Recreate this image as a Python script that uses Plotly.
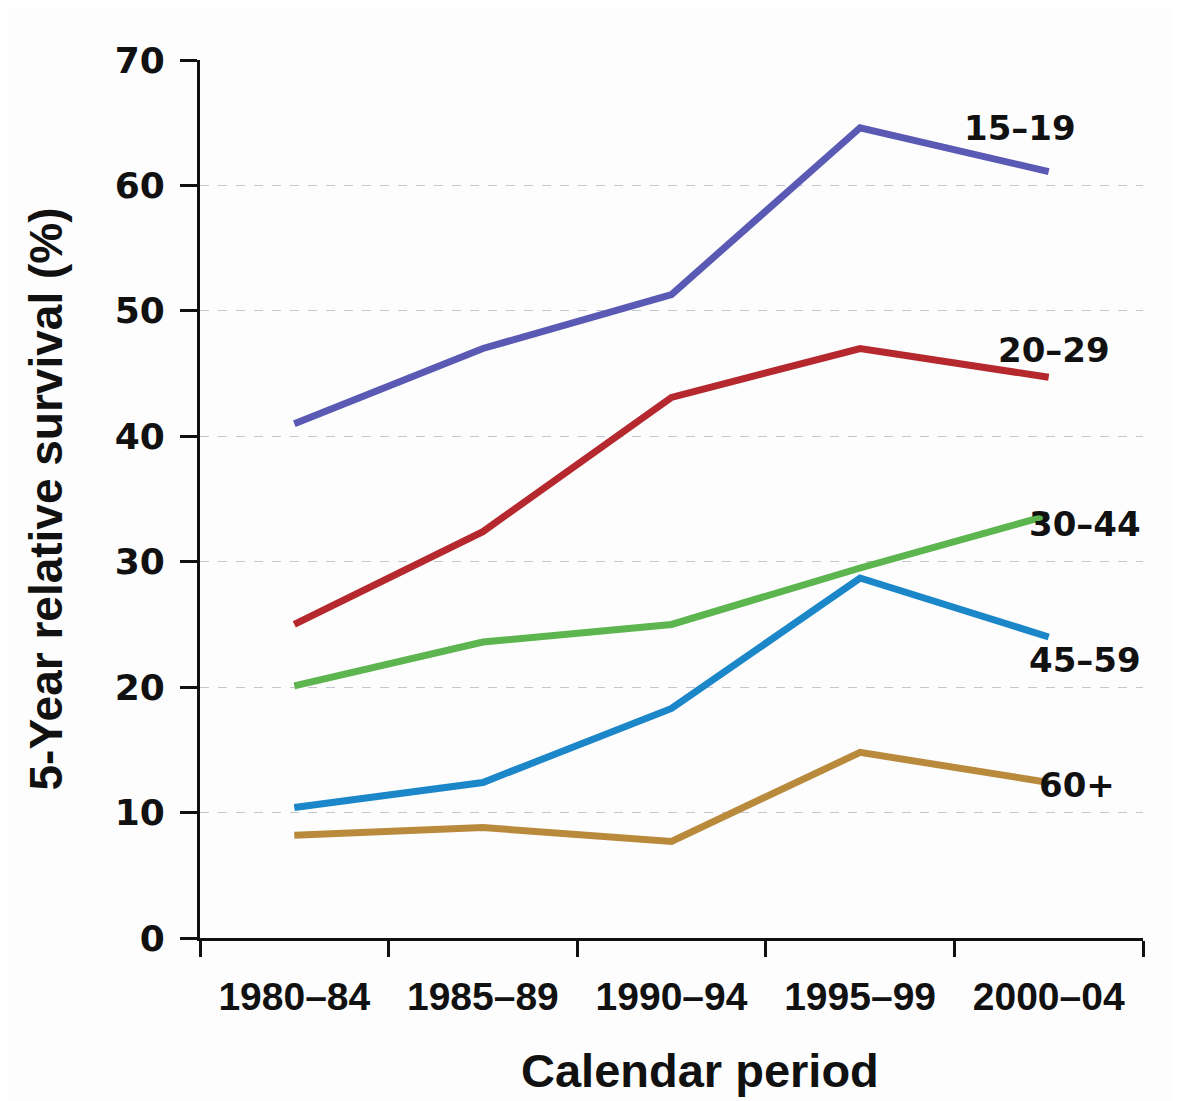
import plotly.graph_objects as go

# calendar periods and 5-year relative survival (%) by age group
periods = ['1980–84', '1985–89', '1990–94', '1995–99', '2000–04']
age_15_19 = [41.0, 47.0, 51.3, 64.6, 61.1]
age_20_29 = [25.0, 32.4, 43.1, 47.0, 44.7]
age_30_44 = [20.1, 23.6, 25.0, 29.5, 33.7]
age_45_59 = [10.4, 12.4, 18.3, 28.7, 24.0]
age_60_up = [8.2, 8.8, 7.7, 14.8, 12.4]

groups = ['15–19', '20–29', '30–44', '45–59', '60+']
series = [age_15_19, age_20_29, age_30_44, age_45_59, age_60_up]
colors = ['#5a5ab4', '#b5282e', '#5cb54f', '#1b87c9', '#b98a3c']

# where the group labels sit (category index, %)
label_x = [3.85, 4.03, 4.19, 4.19, 4.15]
label_y = [64.6, 46.9, 33.0, 22.2, 12.2]

W, H = 1172, 1093
L, R, T, B = 192, 37, 52, 163

fig = go.Figure()
for name, vals, col in zip(groups, series, colors):
    fig.add_trace(go.Scatter(x=periods, y=vals, mode='lines', name=name,
                             line=dict(color=col, width=7)))

for name, lx, ly in zip(groups, label_x, label_y):
    fig.add_annotation(x=lx, y=ly, xref='x', yref='y', text=name, showarrow=False,
                       font=dict(family='DejaVu Sans', size=34, color='#111111', weight='bold'))

# x title placed by pixel, converted to paper coords
fig.add_annotation(x=(692 - L) / (W - L - R), y=-(1062 - (H - B)) / (H - T - B),
                   xref='paper', yref='paper', xanchor='center', yanchor='middle',
                   text='Calendar period', showarrow=False,
                   font=dict(family='Liberation Sans', size=47, color='#111111', weight='bold'))

fig.update_layout(
    width=W, height=H,
    margin=dict(l=L, r=R, t=T, b=B),
    paper_bgcolor='#fdfdfd', plot_bgcolor='#fdfdfd',
    showlegend=False,
)

fig.update_xaxes(
    type='category', range=[-0.5, 4.5], tickson='boundaries',
    ticks='outside', ticklen=16, tickwidth=3, tickcolor='#111111',
    showline=True, linewidth=3, linecolor='#111111', showgrid=False,
    ticklabelstandoff=22,
    tickfont=dict(family='Liberation Sans', size=39, color='#111111', weight='bold'),
)
fig.update_yaxes(
    range=[0, 70], dtick=10, ticks='outside', ticklen=17, tickwidth=3, tickcolor='#111111',
    showline=True, linewidth=3, linecolor='#111111',
    showgrid=True, gridcolor='#c2c6ce', gridwidth=1, griddash='dash', zeroline=False,
    ticklabelstandoff=8,
    tickfont=dict(family='DejaVu Sans', size=36, color='#111111', weight='bold'),
    title=dict(text='5-Year relative survival (%)', standoff=38,
               font=dict(family='Liberation Sans', size=46, color='#111111', weight='bold')),
)

fig.write_html("out.html")
